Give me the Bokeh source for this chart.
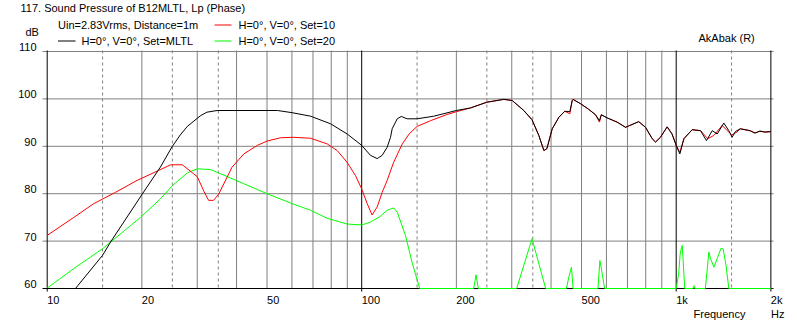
import math
from bokeh.plotting import figure
from bokeh.models import Range1d
from bokeh.core.properties import value
from bokeh.embed import file_html
from bokeh.resources import INLINE

# ---------------- data ----------------
mltl_freq = [10, 12.3, 15.0, 15.9, 20, 22.9, 25.0, 26.5, 27.9, 30.0, 30.8, 32.2, 34.7,
             54, 60, 68.8, 79.6, 89.9, 100, 106.6, 112, 116.2, 120.5, 123.5, 125,
             129.7, 133.6, 139.5, 150, 169.5, 200, 222, 250, 283, 301, 327.6, 348,
             365.7, 379.6, 388, 403.5, 423.4, 442.4, 459, 467, 470, 496, 527, 554,
             570, 578, 603, 649, 690, 712, 760, 799, 839, 860, 891, 936, 970, 1000,
             1027, 1058, 1124, 1195, 1248, 1302, 1350, 1417, 1470, 1506, 1542, 1598,
             1716, 1780, 1846, 1916, 2000]
mltl_db = [60, 60, 67.0, 69.8, 79.8, 85.6, 90.0, 92.4, 94.2, 95.9, 96.5, 97.2, 97.55,
           97.55, 97.1, 96.35, 94.75, 92.6, 90.2, 88.1, 87.4, 88.1, 89.8, 91.9, 93.7,
           95.8, 96.3, 95.8, 95.8, 96.35, 97.55, 98.1, 99.3, 99.9, 99.66, 97.55, 95.6,
           92.3, 89.1, 89.5, 93.7, 96.1, 97.4, 97.3, 99.66, 99.9, 99.0, 97.8, 96.65,
           95.4, 96.65, 96.0, 95.1, 94.0, 94.4, 95.2, 94.0, 91.6, 90.9, 91.9, 94.1,
           92.6, 90.2, 88.4, 91.6, 93.5, 93.3, 91.2, 93.3, 92.6, 94.9, 93.3, 91.9,
           93.1, 93.7, 93.3, 92.8, 93.2, 93.0, 93.1]

set10_freq = [10, 12.15, 14.06, 16.5, 19.3, 22.6, 24.7, 26.9, 29.2, 30.0, 31.5, 32.6,
              33.8, 35.1, 38.7, 42.2, 46.6, 50, 55.2, 60.7, 68.8, 77.7, 83.6, 89.9,
              95.6, 100, 104.1, 107.9, 112, 116.2, 120.5, 126.3, 134.6, 141.5, 150,
              165.5, 186.6, 200, 222, 250, 283, 301, 327.6, 348, 365.7, 379.6, 388,
              403.5, 423.4, 442.4, 459, 467, 470, 496, 527, 554, 570, 578, 603, 649,
              690, 712, 760, 799, 839, 860, 891, 936, 970, 1000, 1027, 1058, 1124,
              1195, 1260, 1318, 1400, 1500, 1560, 1598, 1716, 1780, 1846, 1916, 2000]
set10_db = [71.2, 75.0, 77.9, 80.3, 82.8, 84.9, 86.1, 86.1, 84.2, 83.6, 80.5, 78.6,
            78.6, 79.9, 85.6, 88.4, 90.2, 91.1, 91.8, 91.9, 91.7, 90.5, 89.1, 86.6,
            83.8, 81.0, 77.9, 75.5, 77.2, 80.3, 82.8, 86.6, 90.5, 92.6, 94.2,
            95.4, 96.7, 97.3, 98.1, 99.3, 99.9, 99.66, 97.55, 95.6, 92.3, 89.1, 89.5,
            93.7, 96.1, 97.4, 96.85, 99.66, 99.9, 99.0, 97.8, 96.65, 95.1, 96.65, 96.0,
            95.1, 94.0, 94.4, 95.2, 94.0, 91.6, 90.9, 91.9, 94.1, 92.6, 90.2, 88.7,
            91.6, 93.5, 93.3, 91.6, 92.3, 94.4, 92.4, 93.0, 93.7, 93.3, 92.8, 93.2,
            93.0, 93.1]

set20_freq = [10, 12.15, 15.0, 15.9, 19.8, 22.9, 25.0, 27.9, 30.0, 33.0, 35.6, 42.2,
              50, 60.1, 68.8, 77.7, 89.9, 100, 106.6, 114.4, 120.5, 126.3, 129.7,
              137.8, 144.6, 152.9, 227, 231, 235, 311, 348, 384.6, 447.6, 456, 464.5,
              470, 564, 572, 577, 592, 1000, 1018, 1030, 1045, 1052, 1060, 1065, 1130,
              1139, 1148, 1238, 1270, 1286, 1318, 1350, 1386, 1410, 1440, 1470, 2000]
set20_db = [60.1, 64.2, 68.4, 69.8, 75.0, 78.9, 81.7, 84.4, 85.25, 85.1, 84.2, 82.1,
            80.0, 77.9, 76.5, 74.8, 73.6, 73.4, 74.0, 75.2, 76.5, 77.0, 76.1,
            71.2, 65.5, 60.0, 60.0, 62.9, 60.0, 60.0, 70.5, 60.0, 60.0, 62.5, 64.5,
            60.0, 60.0, 65.9, 64.5, 60.0, 60.0, 63.0, 67.5, 69.1, 66.0, 62.0, 60.0, 60.0,
            60.6, 60.0, 60.0, 67.7, 66.3, 64.5, 66.3, 68.4, 68.4, 64.9, 60.0, 60.0]

x_ticks = [10, 20, 50, 100, 200, 500, 1000, 2000]
x_tick_labels = ["10", "20", "50", "100", "200", "500", "1k", "2k"]
y_ticks = [60, 70, 80, 90, 100, 110]
y_tick_labels = ["60", "70", "80", "90", "100", "110"]
grid_solid = [20, 30, 40, 50, 60, 70, 80, 90, 200, 300, 400, 500, 600, 700, 800, 900]
grid_dashed = [15, 25, 35, 150, 250, 350, 1500]
grid_dark = [10, 100, 1000, 2000]
h_grid = [70, 80, 90, 100, 110]

title_text = "117. Sound Pressure of B12MLTL, Lp (Phase)"
info_text = "Uin=2.83Vrms, Distance=1m"
series_names = ["H=0°, V=0°, Set=MLTL", "H=0°, V=0°, Set=10", "H=0°, V=0°, Set=20"]
series_colors = ["#000000", "#ff0000", "#00ff00"]
brand_text = "AkAbak (R)"

# ---------------- geometry (image pixels) ----------------
W, H = 797, 325
PAGE = 0
X10 = 46.7      # pixel of 10 Hz
PPD = 314.5     # pixels per decade
Y60 = 288.0     # pixel of 60 dB
PPDB = 4.74     # pixels per dB
FONT = value("Liberation Sans")
FS = "11px"
GRAY = "#808080"


def fx(px):
    return 10 * 10 ** ((px - X10) / PPD)


def fy(py):
    return 60 + (Y60 - py) / PPDB


p = figure(width=W, height=H, output_backend="svg", toolbar_location=None,
           x_axis_type="log", x_axis_location=None, y_axis_location=None,
           x_range=Range1d(fx(PAGE), fx(PAGE + W)),
           y_range=Range1d(fy(PAGE + H), fy(PAGE)),
           min_border=0, outline_line_color=None)
p.grid.visible = False
p.background_fill_color = "white"
p.border_fill_color = "white"

left_px, right_px = 42, 773
y_top = fy(50)
y_bot = fy(Y60)

# horizontal grid
p.segment(x0=[fx(left_px)] * len(h_grid), x1=[fx(right_px)] * len(h_grid),
          y0=h_grid, y1=h_grid, line_color=GRAY, line_width=1)
# vertical grid
p.segment(x0=grid_solid, x1=grid_solid, y0=[y_top] * len(grid_solid),
          y1=[y_bot] * len(grid_solid), line_color=GRAY, line_width=1)
p.segment(x0=grid_dashed, x1=grid_dashed, y0=[y_top] * len(grid_dashed),
          y1=[y_bot] * len(grid_dashed), line_color=GRAY, line_width=1,
          line_dash="3 3")
p.segment(x0=grid_dark, x1=grid_dark, y0=[y_top] * len(grid_dark),
          y1=[fy(291)] * len(grid_dark), line_color="black", line_width=1)
# bottom axis line
p.segment(x0=[fx(left_px)], x1=[fx(right_px)], y0=[60], y1=[60],
          line_color="black", line_width=1)

# curves
p.line(set20_freq, set20_db, line_color=series_colors[2], line_width=1)
p.line(set10_freq, set10_db, line_color=series_colors[1], line_width=1)
p.line(mltl_freq, mltl_db, line_color=series_colors[0], line_width=1)

# tick labels
p.text(x=x_ticks, y=[fy(299.5)] * len(x_ticks), text=x_tick_labels,
       text_font=FONT, text_font_size=FS, text_align="left",
       text_baseline="middle", text_color="black")
p.text(x=[fx(36)] * len(y_ticks), y=[v + 4.5 / PPDB for v in y_ticks],
       text=y_tick_labels, text_font=FONT, text_font_size=FS,
       text_align="right", text_baseline="middle", text_color="black")

# other texts
texts = [
    (20, 7, title_text),
    (57.5, 24, info_text),
    (238, 24, series_names[1]),
    (81, 40.5, series_names[0]),
    (238, 40.5, series_names[2]),
    (25, 31, "dB"),
    (698, 37.5, brand_text),
    (693, 313.5, "Frequency"),
    (770.5, 313.5, "Hz"),
]
p.text(x=[fx(t[0]) for t in texts], y=[fy(t[1]) for t in texts],
       text=[t[2] for t in texts], text_font=FONT, text_font_size=FS,
       text_align="left", text_baseline="middle", text_color="black")

# legend samples
leg = [(214, 231, 24.5, series_colors[1]),
       (57.5, 75, 40.5, series_colors[0]),
       (214, 231, 40.5, series_colors[2])]
for x0, x1, yy, c in leg:
    p.line([fx(x0), fx(x1)], [fy(yy), fy(yy)], line_color=c, line_width=1)

open("out.html", "w").write(file_html(p, INLINE))
